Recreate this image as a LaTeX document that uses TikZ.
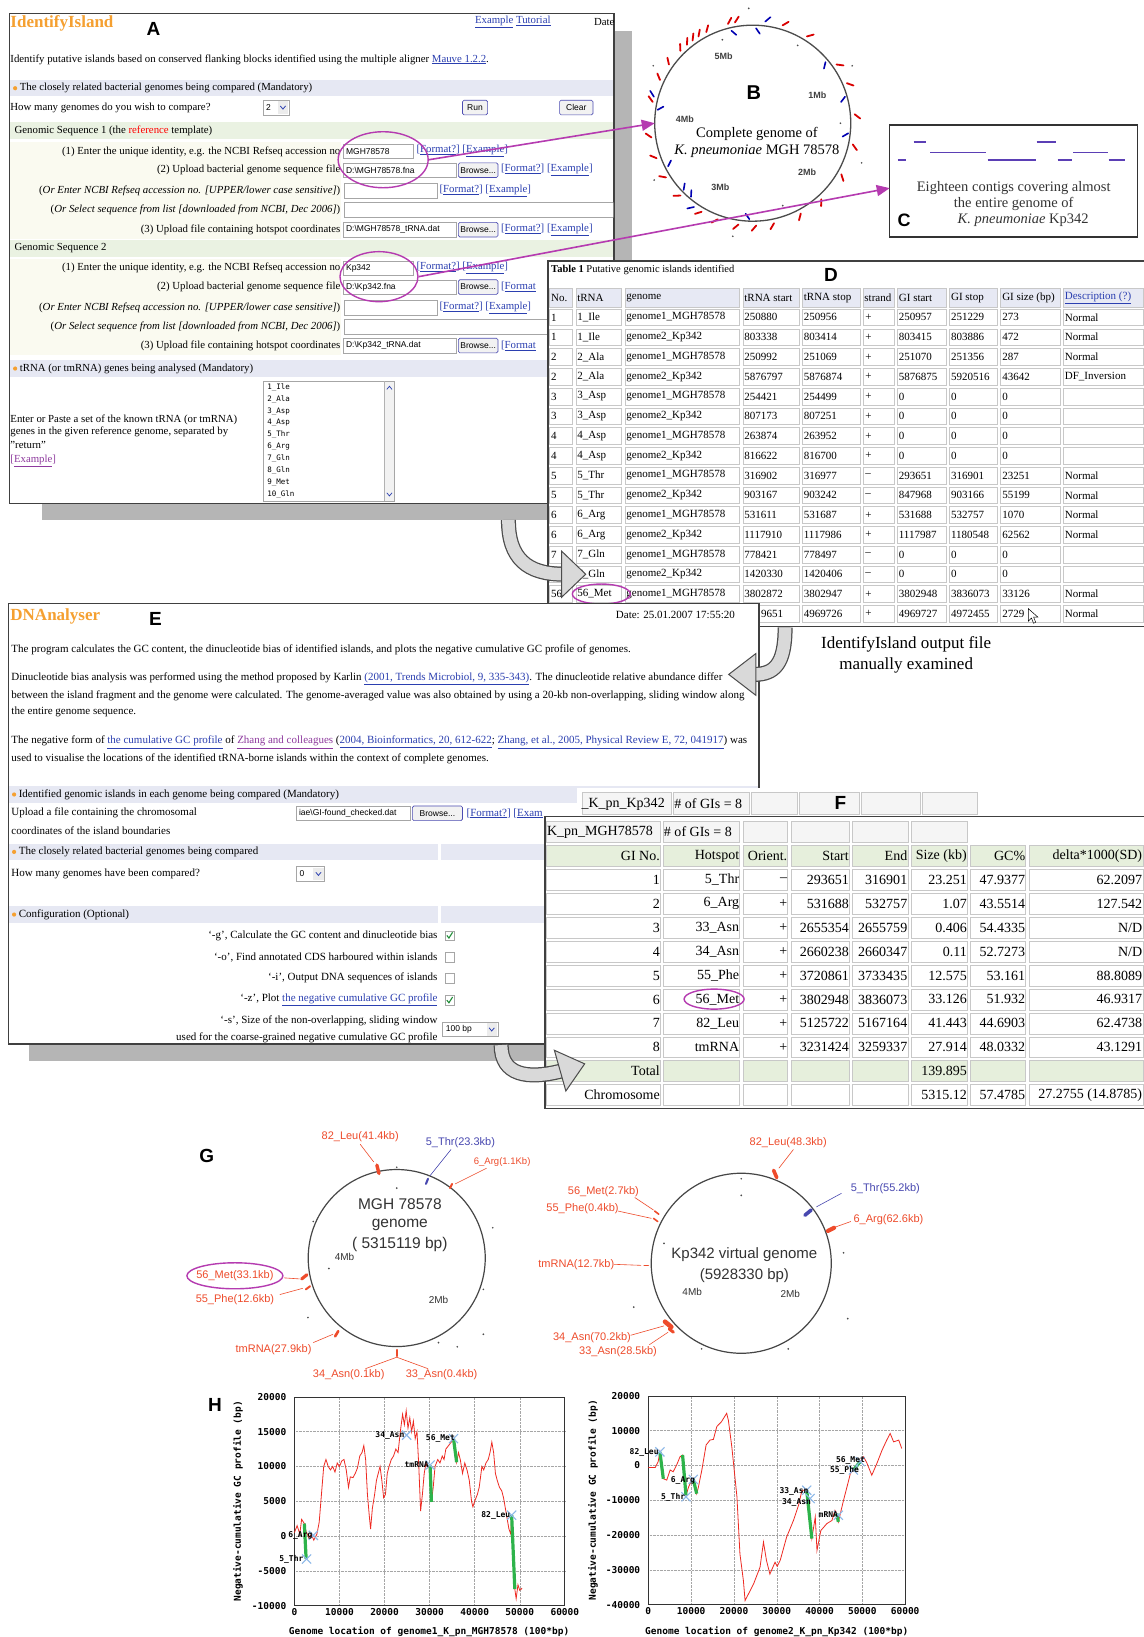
\documentclass[tikz,border=0pt]{standalone}
\usepackage{fontspec}
\setmainfont{Liberation Serif}
\setsansfont{Liberation Sans}
\setmonofont{DejaVu Sans Mono}
\usetikzlibrary{shapes.geometric,shapes.misc,arrows.meta}
\definecolor{idor}{HTML}{F5A031}
\definecolor{lnk}{HTML}{2B3FB0}
\definecolor{vis}{HTML}{8E3A9E}
\definecolor{pur}{HTML}{B53BB0}
\definecolor{secbg}{HTML}{E6E8F3}
\definecolor{gsbg}{HTML}{EAF2E2}
\definecolor{rowbg}{HTML}{FAFAF0}
\definecolor{cellln}{HTML}{C8C8C8}
\definecolor{hdbg}{HTML}{E7E9F4}
\definecolor{grbg}{HTML}{E6EFDC}
\definecolor{gred}{HTML}{EE4B2B}
\definecolor{gblue}{HTML}{4848B0}
\definecolor{cgreen}{HTML}{2DB34A}
\definecolor{contig}{HTML}{5B3FB5}
\definecolor{xblue}{HTML}{8CB8E8}
\definecolor{pred}{HTML}{EE2A22}
\newcommand\fs[1]{\fontsize{#1}{#1}\selectfont}
\newcommand\lk[1]{\textcolor{lnk}{\underline{#1}}}
\newcommand\lv[1]{\textcolor{vis}{\underline{#1}}}
\newcommand\fmt{\textcolor{lnk}{[\underline{Format?}] [\underline{Example}]}}
\newcommand\fmtcut{\textcolor{lnk}{[\underline{Format}}}
\newcount\nc
\newcommand\T[4][]{\global\advance\nc by 1\relax\node[tb,#1] (t\the\nc) at (#2,#3) {#4};}
\newcommand\XM[2]{\global\advance\nc by 1\relax\node[xm] (t\the\nc) at (#1,#2) {};}
\newcommand\IB[4]{\draw[inbox] (#1,#2-7) rectangle (#3,#2+7);\T[anchor=west,font=\sffamily\fs{8.5}]{#1+2.5}{#2}{#4}}
\newcommand\BT[4]{\draw[btn] (#1,#2-7) rectangle (#3,#2+7);\T[font=\sffamily\fs{8.5}]{{(#1+#3)/2}}{#2}{#4}}
\newcommand\DD[4]{\draw[inbox] (#1,#2-7) rectangle (#3,#2+7);\fill[gray!15] (#3-11,#2-6) rectangle (#3-1,#2+6);\T[anchor=west,font=\sffamily\fs{8.5}]{#1+3}{#2}{#4}\draw[lnk,line width=0.8] (#3-8.5,#2-1.5) -- (#3-6,#2+1.5) -- (#3-3.5,#2-1.5);}
\newcommand\CBY[2]{\draw[gray!70,fill=white] (#1,#2-4.5) rectangle (#1+9,#2+4.5);\draw[cgreen!80!black,line width=1.1] (#1+2,#2) -- (#1+4,#2+2.5) -- (#1+7.5,#2-3);}
\newcommand\CBN[2]{\draw[gray!70,fill=white] (#1,#2-4.5) rectangle (#1+9,#2+4.5);}
\newcommand\GA[2]{\draw[line width=15pt,black!70] #1; \draw[line width=12.5pt,gray!30] #1; \filldraw[fill=gray!30,draw=black!70,line width=1pt] #2;}
\tikzset{
 tb/.style={inner sep=0pt,outer sep=0pt},
 fa/.style={font=\fs{10.8}},
 fd/.style={font=\fs{11}},
 ff/.style={font=\fs{14}},
 fe/.style={font=\fs{11}},
 fg/.style={font=\sffamily\fs{11}},
 plab/.style={font=\ttfamily\bfseries\fs{8}},
 tick/.style={font=\ttfamily\bfseries\fs{9.5}},
 pl/.style={font=\sffamily\bfseries\fs{19}},
 inbox/.style={draw=gray!70,fill=white,line width=0.5},
 btn/.style={draw=gray!60!blue,fill=gray!10,rounded corners=1.5,line width=0.6},
 cell/.style={draw=cellln,line width=0.5},
 parr/.style={draw=pur,line width=1.6,-{Triangle[length=13pt,width=11pt]}},
 pell/.style={ellipse,draw=pur,line width=1.4,inner sep=0pt},
 xm/.style={cross out,draw=xblue,line width=1.1,minimum size=8pt,inner sep=0pt},
}
\begin{document}
\begin{tikzpicture}[x=1.0438pt,y=-1.0438pt]
\useasboundingbox (0,0) rectangle (1095,1568);
\fill[white] (0,0) rectangle (1095,1568);

%%%%%%%%%%%%%%%% Panel A
\fill[gray!58] (40,30) rectangle (605,498);
\draw[fill=white,line width=1.3,draw=black!75] (9,13) rectangle (588,482);
\begin{scope}
\clip (9.5,13.5) rectangle (587.5,481.5);
\fill[secbg] (10,77) rectangle (587,92);
\fill[gsbg] (10,117) rectangle (587,133);
\fill[rowbg] (10,136) rectangle (327,229);
\fill[gsbg] (10,230) rectangle (587,246);
\fill[rowbg] (10,248) rectangle (327,340);
\fill[secbg] (10,345) rectangle (587,361);
\T[anchor=west,font=\bfseries\fs{17},text=idor]{10}{22}{IdentifyIsland}
\T[pl]{147}{28}{A}
\T[anchor=west,fa]{455}{21}{\lk{Example} \lk{Tutorial}}
\T[anchor=west,fa]{569}{21}{Date}
\T[anchor=west,fa]{10}{57}{Identify putative islands based on conserved flanking blocks identified using the multiple aligner \lk{Mauve 1.2.2}.}
\fill[idor] (14.5,84.5) circle (2);
\T[anchor=west,fa]{19}{84.5}{The closely related bacterial genomes being compared (Mandatory)}
\T[anchor=west,fa]{10}{103}{How many genomes do you wish to compare?}
\DD{252}{103}{277}{2}
\BT{443}{103}{467}{Run}
\BT{536}{103}{568}{Clear}
\T[anchor=west,fa]{14}{125}{Genomic Sequence 1 (the \textcolor{red}{reference} template)}
\T[anchor=east,fa]{326}{145}{(1) Enter the unique identity, e.g. the NCBI Refseq accession no}
\IB{329}{145}{396}{MGH78578}
\T[anchor=west,fa]{399}{145}{\fmt}
\T[anchor=east,fa]{326}{163}{(2) Upload bacterial genome sequence file}
\IB{329}{163}{437}{D:\textbackslash MGH78578.fna}
\BT{439}{163}{477}{Browse...}
\T[anchor=west,fa]{480}{163}{\fmt}
\T[anchor=east,fa]{326}{183}{(\textit{Or Enter NCBI Refseq accession no. [UPPER/lower case sensitive]})}
\IB{330}{183}{419}{}
\T[anchor=west,fa]{421}{183}{\fmt}
\T[anchor=east,fa]{326}{201}{(\textit{Or Select sequence from list [downloaded from NCBI, Dec 2006]})}
\IB{330}{201}{600}{}
\T[anchor=east,fa]{326}{220}{(3) Upload file containing hotspot coordinates}
\IB{329}{220}{437}{D:\textbackslash MGH78578\_tRNA.dat}
\BT{439}{220}{477}{Browse...}
\T[anchor=west,fa]{480}{220}{\fmt}
\T[anchor=west,fa]{14}{238}{Genomic Sequence 2}
\T[anchor=east,fa]{326}{257}{(1) Enter the unique identity, e.g. the NCBI Refseq accession no}
\IB{329}{257}{396}{Kp342}
\T[anchor=west,fa]{399}{257}{\fmt}
\T[anchor=east,fa]{326}{275}{(2) Upload bacterial genome sequence file}
\IB{329}{275}{437}{D:\textbackslash Kp342.fna}
\BT{439}{275}{477}{Browse...}
\T[anchor=west,fa]{480}{275}{\fmtcut}
\T[anchor=east,fa]{326}{295}{(\textit{Or Enter NCBI Refseq accession no. [UPPER/lower case sensitive]})}
\IB{330}{295}{419}{}
\T[anchor=west,fa]{421}{295}{\fmt}
\T[anchor=east,fa]{326}{313}{(\textit{Or Select sequence from list [downloaded from NCBI, Dec 2006]})}
\IB{330}{313}{600}{}
\T[anchor=east,fa]{326}{331}{(3) Upload file containing hotspot coordinates}
\IB{329}{331}{437}{D:\textbackslash Kp342\_tRNA.dat}
\BT{439}{331}{477}{Browse...}
\T[anchor=west,fa]{480}{331}{\fmtcut}
\fill[idor] (14.5,353) circle (2);
\T[anchor=west,fa]{19}{353}{tRNA (or tmRNA) genes being analysed (Mandatory)}
\draw[gray!70,fill=white] (252,365) rectangle (378,480);
\fill[gray!10] (368,366) rectangle (377.5,479.5);
\draw[gray!60] (368,365) -- (368,480);
\draw[lnk,line width=0.7] (370.5,373) -- (373,370) -- (375.5,373);
\draw[lnk,line width=0.7] (370.5,472) -- (373,475) -- (375.5,472);
\foreach \itm [count=\n from 0] in {1\_Ile,2\_Ala,3\_Asp,4\_Asp,5\_Thr,6\_Arg,7\_Gln,8\_Gln,9\_Met,10\_Gln}
  {\T[anchor=west,font=\ttfamily\fs{7.5}]{256}{371+11.4*\n}{\itm}}
\T[anchor=west,fa]{10}{402}{Enter or Paste a set of the known tRNA (or tmRNA)}
\T[anchor=west,fa]{10}{414}{genes in the given reference genome, separated by}
\T[anchor=west,fa]{10}{426}{"return"}
\T[anchor=west,fa]{10}{441}{\textcolor{vis}{[\underline{Example}]}}
\end{scope}
\node[pell,minimum width=90pt,minimum height=56pt] (eA1) at (367,153) {};
\node[pell,minimum width=78pt,minimum height=50pt] (eA2) at (363,265) {};

%%%%%%%%%%%%%%%% Panel B
\node[circle,draw=gray!60!black,line width=1.3,minimum size=196pt,tb] (cB) at (721,118) {};
\foreach \t in {135,130,126,122,117,104,100,73,58,35,23,5,-12,-30,-48,-62,-78,-88,-98,-110,-120,-135,-148,-160,-172,168,155,145}
  {\draw[red!85!black,line width=1.8,line cap=round] ([shift={(-\t:98)}]cB.center) -- ([shift={(-\t+2.5:103)}]cB.center);}
\foreach \t/\ra/\rb in {103/91/86,88/91/86,83/98/103,40/91/86,16/92/87,-6/92/87,-92/92/87,-125/98/103,-130/92/87,-136/92/87,-153/91/86,172/92/87,165/98/103}
  {\draw[blue!70!black,line width=1.6,line cap=round] ([shift={(-\t:\ra)}]cB.center) -- ([shift={(-\t+2.5:\rb)}]cB.center);}
\foreach \t/\rr in {92/110,60/86,30/110,-20/111,-70/84,-100/110,150/110,-150/109,110/85,0/84}
  {\fill[black!70] ([shift={(-\t:\rr)}]cB.center) circle (0.9);}
\T[font=\sffamily\bfseries\fs{9},text=black!75]{693}{54}{5Mb}
\T[font=\sffamily\bfseries\fs{9},text=black!75]{783}{91}{1Mb}
\T[font=\sffamily\bfseries\fs{9},text=black!75]{656}{114}{4Mb}
\T[font=\sffamily\bfseries\fs{9},text=black!75]{773}{165}{2Mb}
\T[font=\sffamily\bfseries\fs{9},text=black!75]{690}{179}{3Mb}
\T[font=\sffamily\bfseries\fs{20}]{722}{89}{B}
\T[font=\fs{14.5}]{725}{128}{Complete genome of}
\T[font=\fs{14.5}]{725}{145}{\textit{K. pneumoniae} MGH 78578}

%%%%%%%%%%%%%%%% Panel C
\node[draw=black!80,line width=1.3,minimum width=248pt,minimum height=112pt,tb,fill=white] (bC) at (971,173.5) {};
\foreach \xa/\xb/\yy in {875/887/136,993/1011/136,891/944/146,1028/1061/146,860/868/153,946/992/153,1013/1027/153,1062/1078/153}
  {\draw[contig,line width=1.6] (\xa,\yy) -- (\xb,\yy);}
\T[font=\fs{14.5},text=black!80]{971}{180}{Eighteen contigs covering almost}
\T[font=\fs{14.5},text=black!80]{971}{195.5}{the entire genome of}
\T[font=\fs{14.5},text=black!80]{980}{211}{\textit{K. pneumoniae} Kp342}
\T[font=\sffamily\bfseries\fs{18}]{866}{211}{C}

\draw[parr] (eA1.east) -- (cB.west);
\draw[parr] (eA2.east) -- ([yshift=-7pt]bC.west);

%%%%%%%%%%%%%%%% Panel D
\fill[white] (525,250) rectangle (1095,600);
\draw[black!75,line width=1.4] (1097,250) -- (525,250) -- (525,600) -- (1097,600);
\T[anchor=west,font=\fs{10.5}]{528}{259}{\textbf{Table 1} Putative genomic islands identified}
\T[pl]{796}{263}{D}
\def\dcols{525/550,550/597,597/710,710/767,767/825,825/858,858/908,908/957,957/1017,1017/1097}
\foreach \xa/\xb in \dcols {\draw[cell,fill=hdbg] (\xa+1.5,276) rectangle (\xb-1.5,294);}
\foreach \xa/\xb in \dcols {\foreach \q in {0,...,15} {\draw[cell] (\xa+1.5,304+18.93*\q-8) rectangle (\xb-1.5,304+18.93*\q+8);}}
\T[anchor=west,fd]{528}{285}{No.}
\T[anchor=west,fd]{553}{285}{tRNA}
\T[anchor=west,fd]{600}{285}{genome}
\T[anchor=west,fd]{713}{285}{tRNA start}
\T[anchor=west,fd]{770}{285}{tRNA stop}
\T[anchor=west,fd]{828}{285}{strand}
\T[anchor=west,fd]{861}{285}{GI start}
\T[anchor=west,fd]{911}{285}{GI stop}
\T[anchor=west,fd]{960}{285}{GI size (bp)}
\T[anchor=west,fd]{1020}{285}{\lk{Description (?)}}
\foreach \q/\qa/\qb/\qc/\qd/\qe/\qf/\qg/\qh/\qi/\qj in {
 0/1/1\_Ile/genome1\_MGH78578/250880/250956/+/250957/251229/273/Normal,
 1/1/1\_Ile/genome2\_Kp342/803338/803414/+/803415/803886/472/Normal,
 2/2/2\_Ala/genome1\_MGH78578/250992/251069/+/251070/251356/287/Normal,
 3/2/2\_Ala/genome2\_Kp342/5876797/5876874/+/5876875/5920516/43642/DF\_Inversion,
 4/3/3\_Asp/genome1\_MGH78578/254421/254499/+/0/0/0/\mbox{},
 5/3/3\_Asp/genome2\_Kp342/807173/807251/+/0/0/0/\mbox{},
 6/4/4\_Asp/genome1\_MGH78578/263874/263952/+/0/0/0/\mbox{},
 7/4/4\_Asp/genome2\_Kp342/816622/816700/+/0/0/0/\mbox{},
 8/5/5\_Thr/genome1\_MGH78578/316902/316977/\textendash/293651/316901/23251/Normal,
 9/5/5\_Thr/genome2\_Kp342/903167/903242/\textendash/847968/903166/55199/Normal,
 10/6/6\_Arg/genome1\_MGH78578/531611/531687/+/531688/532757/1070/Normal,
 11/6/6\_Arg/genome2\_Kp342/1117910/1117986/+/1117987/1180548/62562/Normal,
 12/7/7\_Gln/genome1\_MGH78578/778421/778497/\textendash/0/0/0/\mbox{},
 13/7/7\_Gln/genome2\_Kp342/1420330/1420406/\textendash/0/0/0/\mbox{},
 14/56/56\_Met/genome1\_MGH78578/3802872/3802947/+/3802948/3836073/33126/Normal}
{
 \T[anchor=west,fd]{528}{304+18.93*\q}{\qa}
 \T[anchor=west,fd]{553}{304+18.93*\q}{\qb}
 \T[anchor=west,fd]{600}{304+18.93*\q}{\qc}
 \T[anchor=west,fd]{713}{304+18.93*\q}{\qd}
 \T[anchor=west,fd]{770}{304+18.93*\q}{\qe}
 \T[anchor=west,fd]{829}{304+18.93*\q}{\qf}
 \T[anchor=west,fd]{861}{304+18.93*\q}{\qg}
 \T[anchor=west,fd]{911}{304+18.93*\q}{\qh}
 \T[anchor=west,fd]{960}{304+18.93*\q}{\qi}
 \T[anchor=west,fd]{1020}{304+18.93*\q}{\qj}
}
\T[anchor=east,fd]{750}{588}{9651}
\T[anchor=west,fd]{770}{588}{4969726}
\T[anchor=west,fd]{829}{588}{+}
\T[anchor=west,fd]{861}{588}{4969727}
\T[anchor=west,fd]{911}{588}{4972455}
\T[anchor=west,fd]{960}{588}{2729}
\T[anchor=west,fd]{1020}{588}{Normal}
\draw[black,fill=white,line width=0.5] (985,583) -- (985,595) -- (988,592) -- (990,597) -- (992,596) -- (990,591) -- (994,591) -- cycle;
\node[pell,minimum width=58pt,minimum height=20pt] (eD) at (576,569) {};
\coordinate (gaA1) at (487,498);
\GA{(gaA1) .. controls (487,535) and (505,550) .. (540,550)}{(538,528) -- (561,550) -- (538,572) -- cycle}

%%%%%%%%%%%%%%%% Panel E
\fill[gray!58] (28,600) rectangle (540,1016);
\draw[fill=white,line width=1.3,draw=black!75] (8,578) rectangle (727,1000);
\begin{scope}
\clip (8.5,578.5) rectangle (726.5,999.5);
\T[anchor=west,font=\bfseries\fs{17},text=idor]{10}{590}{DNAnalyser}
\T[pl]{149}{593}{E}
\T[anchor=west,fe]{590}{589}{Date: 25.01.2007 17:55:20}
\T[anchor=west,fe]{11}{622}{The program calculates the GC content, the dinucleotide bias of identified islands, and plots the negative cumulative GC profile of genomes.}
\T[anchor=west,fe]{11}{650}{Dinucleotide bias analysis was performed using the method proposed by Karlin \lk{(2001, Trends Microbiol, 9, 335-343)}. The dinucleotide relative abundance differ}
\T[anchor=west,fe]{11}{666}{between the island fragment and the genome were calculated. The genome-averaged value was also obtained by using a 20-kb non-overlapping, sliding window along}
\T[anchor=west,fe]{11}{682}{the entire genome sequence.}
\T[anchor=west,fe]{11}{711}{The negative form of \lk{the cumulative GC profile} of \lv{Zhang and colleagues} (\lk{2004, Bioinformatics, 20, 612-622}; \lk{Zhang, et al., 2005, Physical Review E, 72, 041917}) was}
\T[anchor=west,fe]{11}{727}{used to visualise the locations of the identified tRNA-borne islands within the context of complete genomes.}
\fill[secbg] (9,753) rectangle (726,769);
\fill[idor] (13.5,761) circle (2);
\T[anchor=west,fe]{18}{761}{Identified genomic islands in each genome being compared (Mandatory)}
\T[anchor=west,fe]{11}{779}{Upload a file containing the chromosomal}
\T[anchor=west,fe]{11}{796}{coordinates of the island boundaries}
\IB{284}{779}{393}{iae\textbackslash GI-found\_checked.dat}
\BT{395}{779}{443}{Browse...}
\T[anchor=west,fe]{447}{779}{\textcolor{lnk}{[\underline{Format?}] [\underline{Exam}}}
\fill[secbg] (9,808) rectangle (420,824);
\fill[secbg] (422,808) rectangle (726,824);
\fill[idor] (13.5,816) circle (2);
\T[anchor=west,fe]{18}{816}{The closely related bacterial genomes being compared}
\T[anchor=west,fe]{11}{837}{How many genomes have been compared?}
\DD{284}{837}{311}{0}
\fill[secbg] (9,868) rectangle (420,884);
\fill[secbg] (422,868) rectangle (726,884);
\fill[idor] (13.5,876) circle (2);
\T[anchor=west,fe]{18}{876}{Configuration (Optional)}
\T[anchor=east,fe]{419}{896}{`-g', Calculate the GC content and dinucleotide bias}
\CBY{426}{896}
\T[anchor=east,fe]{419}{917}{`-o', Find annotated CDS harboured within islands}
\CBN{426}{917}
\T[anchor=east,fe]{419}{937}{`-i', Output DNA sequences of islands}
\CBN{426}{937}
\T[anchor=east,fe]{419}{958}{`-z', Plot \lk{the negative cumulative GC profile}}
\CBY{426}{958}
\T[anchor=east,fe]{419}{978}{`-s', Size of the non-overlapping, sliding window}
\T[anchor=east,fe]{419}{994}{used for the coarse-grained negative cumulative GC profile}
\DD{424}{986}{477}{100 bp}
\end{scope}
\coordinate (gaD1) at (752,601);
\GA{(gaD1) .. controls (752,636) and (742,646) .. (722,646)}{(724,626) -- (698,646) -- (724,666) -- cycle}
\T[font=\fs{17}]{868}{617}{IdentifyIsland output file}
\T[font=\fs{17}]{868}{637}{manually examined}

%%%%%%%%%%%%%%%% Panel F
\fill[white] (553,755) rectangle (938,782);
\foreach \xa/\xb in {557/644,644/719,719/765,765/824,824/882,882/937} {\draw[cell,fill=gray!8] (\xa+1,759) rectangle (\xb-1,780);}
\T[anchor=west,ff]{557}{770}{\_K\_pn\_Kp342}
\T[anchor=west,ff]{646}{770}{\# of GIs = 8}
\T[pl]{805}{769}{F}
\fill[white] (522,782) rectangle (1096,1062);
\def\fcols{522/634,634/710,710/756,756/815,815/871,871/928,928/984,984/1097}
\foreach \xa/\xb in {522/634,634/710,710/756,756/815,815/871,871/928} {\draw[cell,fill=gray!8] (\xa+1.5,787) rectangle (\xb-1.5,807);}
\foreach \xa/\xb in \fcols {
  \draw[cell,fill=grbg] (\xa+1.5,810) rectangle (\xb-1.5,830);
  \foreach \q in {2,...,9} {\draw[cell] (\xa+1.5,797+22.9*\q-10) rectangle (\xb-1.5,797+22.9*\q+10);}
  \draw[cell,fill=grbg] (\xa+1.5,1016) rectangle (\xb-1.5,1036);
  \draw[cell] (\xa+1.5,1039) rectangle (\xb-1.5,1059);
}
\draw[black!75,line width=1.4] (1097,782) -- (522,782) -- (522,1062) -- (1097,1062);
\T[anchor=west,ff]{524}{797}{K\_pn\_MGH78578}
\T[anchor=west,ff]{636}{797}{\# of GIs = 8}
\T[anchor=east,ff]{632}{820}{GI No.}
\T[anchor=east,ff]{708}{820}{Hotspot}
\T[anchor=east,ff]{754}{820}{Orient.}
\T[anchor=east,ff]{813}{820}{Start}
\T[anchor=east,ff]{869}{820}{End}
\T[anchor=east,ff]{926}{820}{Size (kb)}
\T[anchor=east,ff]{982}{820}{GC\%}
\T[anchor=east,ff]{1094}{820}{delta*1000(SD)}
\foreach \q/\qa/\qb/\qc/\qd/\qe/\qf/\qg/\qh in {
 2/1/5\_Thr/\textendash/293651/316901/23.251/47.9377/62.2097,
 3/2/6\_Arg/+/531688/532757/1.07/43.5514/127.542,
 4/3/33\_Asn/+/2655354/2655759/0.406/54.4335/N\slash D,
 5/4/34\_Asn/+/2660238/2660347/0.11/52.7273/N\slash D,
 6/5/55\_Phe/+/3720861/3733435/12.575/53.161/88.8089,
 7/6/56\_Met/+/3802948/3836073/33.126/51.932/46.9317,
 8/7/82\_Leu/+/5125722/5167164/41.443/44.6903/62.4738,
 9/8/tmRNA/+/3231424/3259337/27.914/48.0332/43.1291}
{
 \T[anchor=east,ff]{632}{797+22.9*\q}{\qa}
 \T[anchor=east,ff]{708}{797+22.9*\q}{\qb}
 \T[anchor=east,ff]{754}{797+22.9*\q}{\qc}
 \T[anchor=east,ff]{813}{797+22.9*\q}{\qd}
 \T[anchor=east,ff]{869}{797+22.9*\q}{\qe}
 \T[anchor=east,ff]{926}{797+22.9*\q}{\qf}
 \T[anchor=east,ff]{982}{797+22.9*\q}{\qg}
 \T[anchor=east,ff]{1094}{797+22.9*\q}{\qh}
}
\T[anchor=east,ff]{632}{1026}{Total}
\T[anchor=east,ff]{926}{1026}{139.895}
\T[anchor=east,ff]{632}{1049}{Chromosome}
\T[anchor=east,ff]{926}{1049}{5315.12}
\T[anchor=east,ff]{982}{1049}{57.4785}
\T[anchor=east,ff]{1094}{1049}{27.2755 (14.8785)}
\node[pell,minimum width=60pt,minimum height=20pt] (eF) at (684,957) {};
\coordinate (gaE1) at (480,1001);
\GA{(gaE1) .. controls (480,1030) and (505,1034) .. (537,1026)}{(531,1006) -- (560,1019) -- (542,1045) -- cycle}

%%%%%%%%%%%%%%%% Panel G
\T[pl]{198}{1107}{G}
\node[circle,draw=gray!55!black,line width=1.2,minimum size=177pt,tb] (cG1) at (380,1205) {};
\node[circle,draw=gray!55!black,line width=1.2,minimum size=180pt,tb] (cG2) at (710,1210) {};
\T[font=\sffamily\fs{15.5},text=black!80]{383}{1153}{MGH 78578}
\T[font=\sffamily\fs{15.5},text=black!80]{383}{1173}{genome}
\T[font=\sffamily\fs{15.5},text=black!80]{383}{1192}{( 5315119 bp)}
\T[font=\sffamily\fs{10},text=black!80]{330}{1204}{4Mb}
\T[font=\sffamily\fs{10},text=black!80]{420}{1245}{2Mb}
\T[font=\sffamily\fs{15},text=black!80]{713}{1202}{Kp342 virtual genome}
\T[font=\sffamily\fs{15},text=black!80]{713}{1222}{(5928330 bp)}
\T[font=\sffamily\fs{10},text=black!80]{663}{1237}{4Mb}
\T[font=\sffamily\fs{10},text=black!80]{757}{1239}{2Mb}
\T[fg,text=gred]{345}{1089}{82\_Leu(41.4kb)}
\T[fg,text=gblue]{441}{1094}{5\_Thr(23.3kb)}
\T[font=\sffamily\fs{9.5},text=gred]{481}{1113}{6\_Arg(1.1Kb)}
\T[fg,text=gred]{225}{1222}{56\_Met(33.1kb)}
\T[fg,text=gred]{225}{1245}{55\_Phe(12.6kb)}
\T[fg,text=gred]{262}{1293}{tmRNA(27.9kb)}
\T[fg,text=gred]{334}{1317}{34\_Asn(0.1kb)}
\T[fg,text=gred]{423}{1317}{33\_Asn(0.4kb)}
\node[pell,minimum width=96pt,minimum height=26pt] (eG) at (225,1222) {};
\T[fg,text=gred]{755}{1094}{82\_Leu(48.3kb)}
\T[fg,text=gblue]{848}{1139}{5\_Thr(55.2kb)}
\T[fg,text=gred]{851}{1168}{6\_Arg(62.6kb)}
\T[fg,text=gred]{578}{1141}{56\_Met(2.7kb)}
\T[fg,text=gred]{558}{1158}{55\_Phe(0.4kb)}
\T[fg,text=gred]{552}{1211}{tmRNA(12.7kb)}
\T[fg,text=gred]{567}{1281}{34\_Asn(70.2kb)}
\T[fg,text=gred]{592}{1295}{33\_Asn(28.5kb)}
\foreach \xa/\ya/\xb/\yb/\cl/\lw in {361/1116/363/1124/gred/3.4, 408/1134/410/1129/gblue/2, 431/1138/433/1134/gred/2, 289/1225/294/1221/gred/3.2, 293/1235/297/1232/gred/2, 321/1280/324/1275/gred/2.6, 380/1293/380/1299/gred/2.2,
 741/1121/744/1128/gred/3.6, 771/1164/777/1159/gblue/3.6, 793/1179/799/1176/gred/4.2, 627/1160/631/1163/gred/1.6, 626/1167/630/1170/gred/1.6, 617/1212/621/1212/gred/1.6, 637/1266/643/1271/gred/4.6, 641/1273/645/1276/gred/3}
 {\draw[\cl,line width=\lw,line cap=round] (\xa,\ya) -- (\xb,\yb);}
\foreach \xa/\ya/\xb/\yb in {345/1096/358/1113, 466/1119/436/1134, 272/1224/287/1225, 268/1240/290/1234, 300/1286/319/1278, 380/1300/350/1311, 380/1300/410/1311,
 760/1101/746/1119, 815/1170/801/1175, 608/1147/626/1159, 592/1160/624/1167, 588/1211/614/1212, 604/1279/636/1270, 622/1288/640/1276}
 {\draw[gred,line width=0.6] (\xa,\ya) -- (\xb,\yb);}
\draw[gblue,line width=0.6] (432,1101) -- (412,1126);
\draw[gblue,line width=0.6] (806,1143) -- (782,1156);
\foreach \xa/\ya in {380/1138,380/1118,357/1152,315/1215,420/1286,438/1290,463/1278,463/1235,472/1176,300/1170,295/1262,
 710/1145,710/1129,808/1200,812/1263,672/1292,755/1292,636/1191,607/1252}
 {\fill[black!70] (\xa,\ya) circle (0.9);}

%%%%%%%%%%%%%%%% Panel H
\T[pl]{206}{1346}{H}
\begin{scope}[shift={(282,1471.3)},xscale=4.317,yscale=-6.667]
 \foreach \v in {-5,0,...,15} {\draw[gray!70,densely dotted,line width=0.4] (0,\v) -- (60,\v);}
 \foreach \u in {10,20,...,50} {\draw[gray!70,densely dotted,line width=0.4] (\u,-10) -- (\u,20);}
 \draw[black!80,line width=0.7] (0,-10) rectangle (60,20);
 \foreach \v/\lab in {-10/-10000,-5/-5000,0/0,5/5000,10/10000,15/15000,20/20000} {\T[tick,anchor=east]{-1.8}{\v}{\lab}}
 \foreach \u/\lab in {0/0,10/10000,20/20000,30/30000,40/40000,50/50000,60/60000} {\T[tick,anchor=north,yshift=-3pt]{\u}{-10}{\lab}}
 \draw[pred,line width=0.8] plot coordinates {(0,0.5) (0.6,1.5) (1.2,0.3) (1.6,2.4) (2.2,1.8) (2.6,0.6) (3.2,-0.2) (3.8,0.2) (4.3,-0.6) (5,0.3) (5.5,2) (6,6) (6.5,10) (7,11) (7.5,10) (8,9.5) (8.5,10) (9,9.2) (9.5,10.5) (10,10) (10.5,10.8) (11,11) (11.5,9.5) (12,7) (12.4,8.5) (13,8.4) (13.5,9) (14,9.8) (14.5,11.5) (15,12) (15.4,13) (15.8,11) (16.2,6) (16.6,3) (16.9,1) (17.3,4) (17.8,6) (18.2,8) (18.6,9) (19,10) (19.4,8) (19.8,5.5) (20.2,6) (20.6,9) (21,10) (21.5,11) (22,11.5) (22.5,12.5) (23,12) (23.5,15) (24,17.5) (24.4,16) (24.8,18) (25.2,15.5) (25.6,17) (26,15) (26.4,16.5) (26.8,14) (27.2,15) (27.6,10) (28,3.6) (28.4,6) (28.8,9) (29.2,10.5) (29.6,9.8) (30.1,10.2) (30.4,4.9) (30.8,7) (31.2,10) (31.8,11) (32.3,10.5) (32.8,11.5) (33.2,11) (33.6,12.5) (34.2,13) (34.8,13.5) (35.3,14) (36,10.6) (36.4,12) (36.8,11) (37.3,9) (37.8,10.5) (38.3,9.5) (38.8,8) (39.3,5) (39.6,4.2) (40,5) (40.6,6) (41,7) (41.6,10) (42,9.5) (42.5,10.5) (43,11) (43.4,12) (43.8,13.5) (44.2,12) (44.6,9) (45,8) (45.5,7) (46,6.5) (46.4,5.5) (46.8,4) (47.2,2.5) (47.6,1) (48,0.3) (48.2,3) (48.9,-7.6) (49.2,-9) (49.6,-7) (50,-7.8) (50.5,-7.5)};
 \foreach \xa/\ya/\xb/\yb in {2.2/1.8/2.6/-3.3, 30.1/10.2/30.4/4.9, 35.3/14/36/10.6, 48.2/3/48.9/-7.6}
  {\draw[cgreen,line width=3.2] (\xa,\ya) -- (\xb,\yb);}
 \XM{2.7}{-3.3}\XM{4.2}{0.1}\XM{24.9}{14.5}\XM{30.1}{10.2}\XM{35.3}{14}\XM{48.2}{3}
 \T[plab,anchor=east]{2.0}{-3.3}{5\_Thr}
 \T[plab,anchor=east]{4.0}{0.1}{6\_Arg}
 \T[plab,anchor=east]{24.4}{14.5}{34\_Asn}
 \T[plab,anchor=east]{29.8}{10.2}{tmRNA}
 \T[plab,anchor=east]{35.6}{14}{56\_Met}
 \T[plab,anchor=east]{47.9}{3}{82\_Leu}
\end{scope}
\T[tick,rotate=90]{228}{1438}{Negative-cumulative GC profile (bp)}
\T[tick]{411}{1563}{Genome location of genome1\_K\_pn\_MGH78578 (100*bp)}
\begin{scope}[shift={(621,1403.7)},xscale=4.1,yscale=-3.333]
 \foreach \v in {-30,-20,...,10} {\draw[gray!70,densely dotted,line width=0.4] (0,\v) -- (60,\v);}
 \foreach \u in {10,20,...,50} {\draw[gray!70,densely dotted,line width=0.4] (\u,-40) -- (\u,20);}
 \draw[black!80,line width=0.7] (0,-40) rectangle (60,20);
 \foreach \v/\lab in {-40/-40000,-30/-30000,-20/-20000,-10/-10000,0/0,10/10000,20/20000} {\T[tick,anchor=east]{-1.9}{\v}{\lab}}
 \foreach \u/\lab in {0/0,10/10000,20/20000,30/30000,40/40000,50/50000,60/60000} {\T[tick,anchor=north,yshift=-3pt]{\u}{-40}{\lab}}
 \draw[pred,line width=0.8] plot coordinates {(0,-0.6) (1.6,-0.6) (2.3,1.1) (2.7,3.9) (3.5,-3.8) (4.3,-4.2) (5.1,-1.3) (5.8,-1.8) (6.6,0.1) (7.4,2.5) (8,3) (8.8,-8.6) (9.4,-6.2) (10.1,-4.2) (10.5,-4) (11.3,-8.1) (11.7,-6.2) (12.5,-1.3) (13.5,5.9) (14.4,7.3) (15.2,7.5) (16,11.2) (17.1,12.6) (18.3,15) (18.7,13) (19.5,5.4) (20.7,-9) (21.4,-25.4) (22.2,-33) (22.6,-38.8) (23.4,-36.9) (24.6,-34) (26.1,-29.2) (26.9,-22) (27.6,-27.3) (28.4,-31.2) (29.6,-27.8) (30.1,-29) (30.8,-27.3) (32.3,-20.6) (33.9,-15.8) (35.1,-11.4) (35.9,-7.1) (37,-7.1) (38.2,-21) (39,-14.8) (39.4,-24.4) (40.3,-18.7) (41.7,-16.7) (42.9,-15.8) (43.6,-12.9) (44,-13.8) (44.4,-16.2) (45.6,-10) (46.4,-6.2) (47.2,-2.3) (47.9,-1.3) (49.5,1.1) (50.3,2.5) (51.1,0.6) (52.2,-2.8) (53.4,0.6) (54.6,4.4) (55.7,7.3) (56.5,9.2) (57.3,6.8) (58.5,7.3) (59.2,4.9)};
 \foreach \xa/\ya/\xb/\yb in {2.7/3.9/3.5/-3.8, 8/3/8.8/-8.6, 10.5/-4/11.3/-8.1, 37/-7.1/38.2/-21, 44/-13.8/44.4/-16.2, 47.9/-1.3/49.5/1.1}
  {\draw[cgreen,line width=3.2] (\xa,\ya) -- (\xb,\yb);}
 \XM{2.7}{3.9}\XM{8.8}{-9}\XM{10.5}{-4}\XM{37}{-7.1}\XM{37.8}{-9.5}\XM{44.4}{-14.3}\XM{47.9}{-1.3}\XM{49.5}{1.1}
 \T[plab,anchor=east]{2.4}{3.6}{82\_Leu}
 \T[plab,anchor=east]{10.9}{-4.2}{6\_Arg}
 \T[plab,anchor=east]{8.6}{-9.3}{5\_Thr}
 \T[plab,anchor=east]{37.4}{-7.5}{33\_Asn}
 \T[plab,anchor=east]{38}{-10.6}{34\_Asn}
 \T[plab,anchor=east]{44.3}{-14}{mRNA}
 \T[plab,anchor=east]{50.6}{1.3}{56\_Met}
 \T[plab,anchor=east]{49.2}{-1.5}{55\_Phe}
\end{scope}
\T[tick,rotate=90]{568}{1437}{Negative-cumulative GC profile (bp)}
\T[tick]{744}{1563}{Genome location of genome2\_K\_pn\_Kp342 (100*bp)}
\end{tikzpicture}
\end{document}
